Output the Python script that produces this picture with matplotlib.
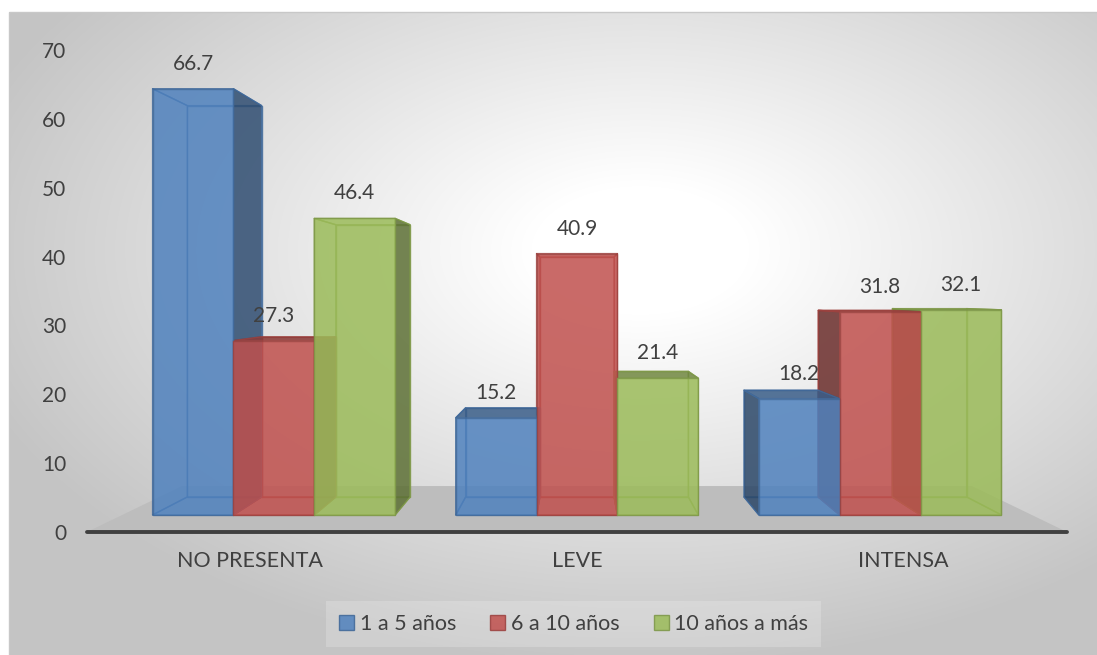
import numpy as np
import matplotlib
matplotlib.use('Agg')
import matplotlib.pyplot as plt
import matplotlib.patches as mpatches
from matplotlib.colors import to_rgb

plt.rcParams['font.family'] = ['Lato', 'DejaVu Sans']

# datos
categorias = ['NO PRESENTA', 'LEVE', 'INTENSA']
series = ['1 a 5 años', '6 a 10 años', '10 años a más']
uno_a_cinco = [66.7, 15.2, 18.2]
seis_a_diez = [27.3, 40.9, 31.8]
diez_a_mas = [46.4, 21.4, 32.1]
valores = [uno_a_cinco, seis_a_diez, diez_a_mas]
colores = ['#4F81BD', '#C0504D', '#9BBB59']
y_ticks = list(range(0, 80, 10))

# perspectiva (punto de fuga en coordenadas de datos)
XVP, VVP = 1.0, 34.4
S_FRONT, S_BACK, S_FLOOR = 0.928, 0.852, 0.806
GRUPO = 0.8
ALPHA = 0.85
TXT = '#404040'


def proj(x, v, s):
    return XVP + s * (x - XVP), VVP + s * (v - VVP)


def shade(c, f):
    r, g, b = to_rgb(c)
    return (r * f, g * f, b * f)


def face(ax, pts, fc, ec, z, alpha=ALPHA, fill=True):
    poly = mpatches.Polygon(pts, closed=True, facecolor=fc if fill else 'none',
                            edgecolor=ec, lw=1.0, alpha=alpha, zorder=z,
                            clip_on=False, joinstyle='round')
    ax.add_patch(poly)


fig = plt.figure(figsize=(10.97, 6.55), dpi=100)
fig.patch.set_facecolor('white')

# fondo con degradado radial
bg = fig.add_axes([0, 0, 1, 1])
bg.set_xlim(0, 1097)
bg.set_ylim(655, 0)
bg.axis('off')
xx, yy = np.meshgrid(np.arange(9, 1097), np.arange(12, 655))
r = np.sqrt(((xx - 640) / 544.0) ** 2 + ((yy - 250) / 321.0) ** 2)
g = 1 - 0.21 * np.clip((r - 0.2) / 1.0, 0, 1.1)
img = np.dstack([g, g, g])
bg.imshow(img, extent=(9, 1097, 655, 12), aspect='auto', interpolation='bilinear')
bg.add_patch(mpatches.Rectangle((9, 12), 1100, 660, fill=False, edgecolor='#C8C8C8', lw=1))

ax = fig.add_axes([87 / 1097, 123 / 655, 980 / 1097, 482 / 655])
ax.set_facecolor('none')
ax.set_xlim(-0.5, 2.5)
ax.set_ylim(0, 70)

# piso
piso = [proj(-0.5, 0, 1), proj(2.5, 0, 1), proj(2.5, 0, S_FLOOR), proj(-0.5, 0, S_FLOOR)]
face(ax, piso, '#BDBDBD', 'none', 1, alpha=1)

n = len(series)
ancho = GRUPO / n
for j, (vals, c) in enumerate(zip(valores, colores)):
    ec = shade(c, 0.82)
    for i, v in enumerate(vals):
        x0 = i - GRUPO / 2 + j * ancho
        x1 = x0 + ancho
        front = [proj(x0, 0, S_FRONT), proj(x1, 0, S_FRONT), proj(x1, v, S_FRONT), proj(x0, v, S_FRONT)]
        back = [proj(x0, 0, S_BACK), proj(x1, 0, S_BACK), proj(x1, v, S_BACK), proj(x0, v, S_BACK)]
        top = [proj(x0, v, S_FRONT), proj(x1, v, S_FRONT), proj(x1, v, S_BACK), proj(x0, v, S_BACK)]
        bottom = [proj(x0, 0, S_FRONT), proj(x1, 0, S_FRONT), proj(x1, 0, S_BACK), proj(x0, 0, S_BACK)]
        left = [proj(x0, 0, S_FRONT), proj(x0, v, S_FRONT), proj(x0, v, S_BACK), proj(x0, 0, S_BACK)]
        right = [proj(x1, 0, S_FRONT), proj(x1, v, S_FRONT), proj(x1, v, S_BACK), proj(x1, 0, S_BACK)]

        # caras ocultas: solo bordes
        face(ax, back, c, ec, 2, fill=False)
        face(ax, bottom, c, ec, 2, fill=False)
        if x1 < XVP:
            face(ax, left, c, ec, 2, fill=False)
            face(ax, right, shade(c, 0.6), ec, 3)
        elif x0 > XVP:
            face(ax, right, c, ec, 2, fill=False)
            face(ax, left, shade(c, 0.55), ec, 3)
        else:
            face(ax, left, c, ec, 2, fill=False)
            face(ax, right, c, ec, 2, fill=False)
        if v < VVP:
            face(ax, top, shade(c, 0.72), ec, 4)
        else:
            face(ax, top, c, ec, 2, fill=False)
        face(ax, front, c, ec, 5)

        lx, ly = proj((x0 + x1) / 2, v, S_FRONT)
        ax.annotate(f'{v:.1f}', (lx, ly), xytext=(0, 18), textcoords='offset points',
                    ha='center', va='center', fontsize=15, color=TXT, zorder=6,
                    annotation_clip=False)

for s in ['top', 'right', 'left']:
    ax.spines[s].set_visible(False)
ax.spines['bottom'].set_color(TXT)
ax.spines['bottom'].set_linewidth(2.8)
ax.spines['bottom'].set_capstyle('round')
ax.spines['bottom'].set_zorder(1.5)

ax.set_xticks(range(len(categorias)))
ax.set_xticklabels(categorias)
ax.set_yticks(y_ticks)
ax.tick_params(axis='x', length=0, pad=14, labelsize=15.5, labelcolor=TXT)
ax.tick_params(axis='y', length=0, pad=15, labelsize=15, labelcolor=TXT)

handles = [mpatches.Patch(facecolor=c, edgecolor=shade(c, 0.8), alpha=ALPHA) for c in colores]
leg = fig.legend(handles, series, loc='center', bbox_to_anchor=(0.523, 1 - 624 / 655), ncol=3,
                 fontsize=15.5, labelcolor=TXT, handlelength=0.7, handleheight=0.7,
                 handletextpad=0.25, columnspacing=1.6, borderpad=0.6, fancybox=False,
                 facecolor='white', framealpha=0.2, edgecolor='none')

plt.savefig('out.png', dpi=100)
